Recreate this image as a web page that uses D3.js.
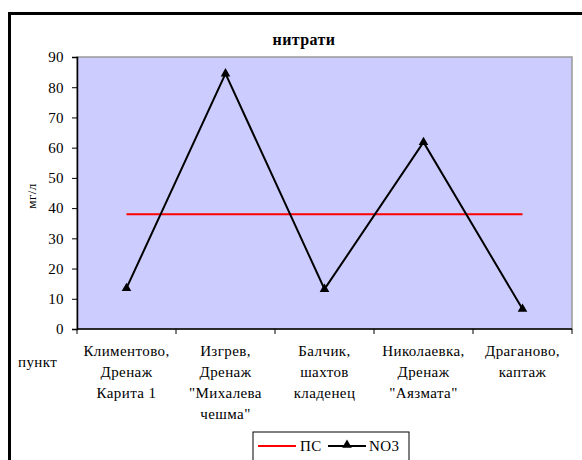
<!DOCTYPE html>
<html>
<head>
<meta charset="utf-8">
<script src="https://cdn.jsdelivr.net/npm/d3@7"></script>
<style>
  body { margin: 0; background: #fff; }
  svg { display: block; }
  svg text { font-family: "Liberation Serif", "Times New Roman", "DejaVu Serif", serif; letter-spacing: 0.4px; }
</style>
</head>
<body>
<svg width="582" height="460"></svg>
<script>
// data
var categories = [
  ["Климентово,", "Дренаж", "Карита 1"],
  ["Изгрев,", "Дренаж", "\"Михалева", "чешма\""],
  ["Балчик,", "шахтов", "кладенец"],
  ["Николаевка,", "Дренаж", "\"Аязмата\""],
  ["Драганово,", "каптаж"]
];
var no3 = [13.5, 84.5, 13.2, 61.8, 6.6];
var ps = [38, 38, 38, 38, 38];
var yTicks = [0, 10, 20, 30, 40, 50, 60, 70, 80, 90];

var svg = d3.select("svg");

// plot area
var pLeft = 77, pTop = 57, pRight = 572, pBottom = 329;

var x = d3.scaleBand()
    .domain(d3.range(categories.length))
    .range([pLeft, pRight]);
var y = d3.scaleLinear()
    .domain([0, 90])
    .range([pBottom, pTop]);

// outer frame (runs off the bottom/right of the picture)
svg.append("rect")
    .attr("x", 9.5).attr("y", 13.5)
    .attr("width", 600).attr("height", 480)
    .attr("fill", "none")
    .attr("stroke", "#000")
    .attr("stroke-width", 3);

// plot background
svg.append("rect")
    .attr("x", pLeft).attr("y", pTop)
    .attr("width", pRight - pLeft).attr("height", pBottom - pTop)
    .attr("fill", "#ccccff")
    .attr("stroke", "#999")
    .attr("stroke-width", 1.5);

// title
svg.append("text")
    .attr("x", 304).attr("y", 45)
    .attr("text-anchor", "middle")
    .attr("font-weight", "bold")
    .attr("font-size", "16px")
    .text("нитрати");

// y axis
var yAxis = svg.append("g")
    .attr("transform", "translate(" + pLeft + ",0)")
    .call(d3.axisLeft(y).tickValues(yTicks).tickSize(5).tickPadding(8));
yAxis.select(".domain").attr("stroke", "#000").attr("stroke-width", 1.5);
yAxis.selectAll("text").attr("font-size", "15px").attr("font-family", null).attr("fill", "#000");

// y label
svg.append("text")
    .attr("transform", "translate(36,196) rotate(-90)")
    .attr("text-anchor", "middle")
    .attr("font-size", "13px")
    .text("мг/л");

// x axis line and ticks between categories
var xAxis = svg.append("g")
    .attr("transform", "translate(0," + pBottom + ")");
xAxis.append("line")
    .attr("x1", pLeft).attr("x2", pRight)
    .attr("stroke", "#000").attr("stroke-width", 1.5);
xAxis.selectAll(".tk")
    .data(d3.range(categories.length + 1))
    .enter().append("line")
    .attr("x1", function(d) { return pLeft + d * x.step(); })
    .attr("x2", function(d) { return pLeft + d * x.step(); })
    .attr("y1", 0).attr("y2", 5)
    .attr("stroke", "#000");

// category labels
svg.selectAll(".cat")
    .data(categories)
    .enter().append("text")
    .attr("text-anchor", "middle")
    .attr("font-size", "15px")
    .attr("y", 356)
    .each(function(d, i) {
      var t = d3.select(this);
      d.forEach(function(line, j) {
        t.append("tspan")
          .attr("x", x(i) + x.bandwidth() / 2)
          .attr("dy", j == 0 ? 0 : 21)
          .text(line);
      });
    });

svg.append("text")
    .attr("x", 18).attr("y", 367)
    .attr("font-size", "15px")
    .text("пункт");

// lines
var cx = function(d, i) { return x(i) + x.bandwidth() / 2; };

svg.append("path")
    .datum(ps)
    .attr("fill", "none")
    .attr("stroke", "#ff0000")
    .attr("stroke-width", 2)
    .attr("d", d3.line().x(cx).y(function(d) { return y(d); }));

svg.append("path")
    .datum(no3)
    .attr("fill", "none")
    .attr("stroke", "#000")
    .attr("stroke-width", 2)
    .attr("d", d3.line().x(cx).y(function(d) { return y(d); }));

var tri = d3.symbol().type(d3.symbolTriangle).size(40);
svg.selectAll(".mk")
    .data(no3)
    .enter().append("path")
    .attr("d", tri)
    .attr("fill", "#000")
    .attr("transform", function(d, i) { return "translate(" + cx(d, i) + "," + y(d) + ")"; });

// legend
var lg = svg.append("g");
lg.append("rect")
    .attr("x", 253).attr("y", 432)
    .attr("width", 156).attr("height", 40)
    .attr("fill", "#fff")
    .attr("stroke", "#000");
lg.append("line")
    .attr("x1", 258).attr("x2", 296).attr("y1", 446).attr("y2", 446)
    .attr("stroke", "#ff0000").attr("stroke-width", 2);
lg.append("text")
    .attr("x", 300).attr("y", 451)
    .attr("font-size", "15px")
    .text("ПС");
lg.append("line")
    .attr("x1", 328).attr("x2", 366).attr("y1", 446).attr("y2", 446)
    .attr("stroke", "#000").attr("stroke-width", 2);
lg.append("path")
    .attr("d", tri)
    .attr("fill", "#000")
    .attr("transform", "translate(347,445)");
lg.append("text")
    .attr("x", 369).attr("y", 451)
    .attr("font-size", "15px")
    .text("NO3");
</script>
</body>
</html>
